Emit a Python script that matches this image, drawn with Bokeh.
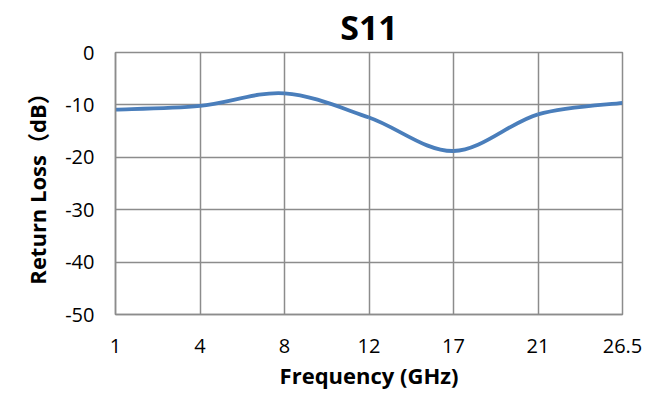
from bokeh.plotting import figure
from bokeh.models import FixedTicker, Range1d
from bokeh.embed import file_html
from bokeh.resources import INLINE

freq_labels = ["1", "4", "8", "12", "17", "21", "26.5"]
return_loss = [-10.9, -10.2, -7.8, -12.4, -18.8, -11.8, -9.6]
y_ticks = [-50, -40, -30, -20, -10, 0]
y_tick_labels = ["-50", "-40", "-30", "-20", "-10", "0"]

xs = list(range(len(freq_labels)))

p = figure(width=657, height=393, output_backend="svg", toolbar_location=None,
           x_range=Range1d(0, len(xs) - 1), y_range=Range1d(-50, 0),
           min_border_left=115, min_border_right=35, min_border_top=52, min_border_bottom=79)

x0, y0, x1, y1, cx0, cy0, cx1, cy1 = [], [], [], [], [], [], [], []
n = len(xs)
for i in range(n - 1):
    pa = (xs[max(i - 1, 0)], return_loss[max(i - 1, 0)])
    pb = (xs[i], return_loss[i])
    pc = (xs[i + 1], return_loss[i + 1])
    pd = (xs[min(i + 2, n - 1)], return_loss[min(i + 2, n - 1)])
    x0.append(pb[0]); y0.append(pb[1])
    x1.append(pc[0]); y1.append(pc[1])
    cx0.append(pb[0] + (pc[0] - pa[0]) / 6); cy0.append(pb[1] + (pc[1] - pa[1]) / 6)
    cx1.append(pc[0] - (pd[0] - pb[0]) / 6); cy1.append(pc[1] - (pd[1] - pb[1]) / 6)

p.bezier(x0=x0, y0=y0, x1=x1, y1=y1, cx0=cx0, cy0=cy0, cx1=cx1, cy1=cy1,
         line_color="#4A7EBB", line_width=3.8)

font = "'Open Sans', 'Noto Sans CJK SC'"
grid_color = "#8C8C8C"

p.title.text = "S11"
p.title.align = "center"
p.title.vertical_align = "top"
p.title.text_font = font
p.title.text_font_size = "34px"
p.title.text_font_style = "bold"
p.title.text_color = "#000000"
p.title.offset = 0
p.title.standoff = 2

p.xaxis.ticker = FixedTicker(ticks=xs)
p.xaxis.major_label_overrides = {i: lab for i, lab in enumerate(freq_labels)}
p.yaxis.ticker = FixedTicker(ticks=y_ticks)
p.yaxis.major_label_overrides = {t: lab for t, lab in zip(y_ticks, y_tick_labels)}

for ax in (p.xaxis, p.yaxis):
    ax.major_label_text_font = font
    ax.major_label_text_font_size = "20px"
    ax.major_label_text_color = "#000000"
    ax.axis_label_text_font = font
    ax.axis_label_text_font_size = "22px"
    ax.axis_label_text_font_style = "bold"
    ax.axis_label_text_color = "#000000"
    ax.axis_line_color = grid_color
    ax.axis_line_width = 1.5
    ax.major_tick_line_color = None
    ax.minor_tick_line_color = None
    ax.major_tick_out = 0
    ax.major_tick_in = 0

p.xaxis.axis_label = "Frequency (GHz)"
p.yaxis.axis_label = "Return Loss（dB）"
p.xaxis.major_label_standoff = 24
p.yaxis.major_label_standoff = 21
p.xaxis.axis_label_standoff = 4
p.yaxis.axis_label_standoff = 10

p.grid.grid_line_color = grid_color
p.grid.grid_line_width = 1.5
p.outline_line_color = grid_color
p.outline_line_width = 1.5
p.background_fill_color = "#FFFFFF"
p.border_fill_color = "#FFFFFF"

open("out.html", "w").write(file_html(p, INLINE))
